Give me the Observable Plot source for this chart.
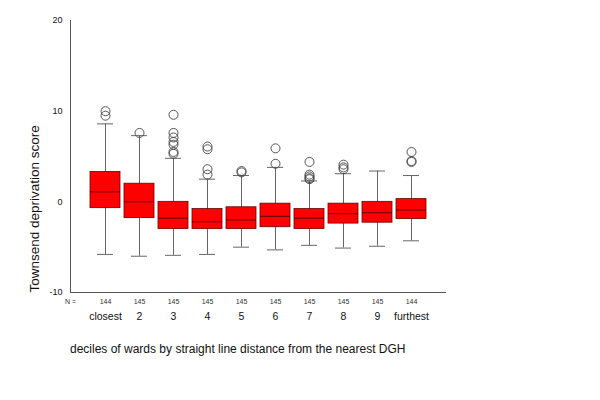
<!DOCTYPE html>
<html>
<head>
<meta charset="utf-8">
<script src="https://cdn.jsdelivr.net/npm/d3@7"></script>
<script src="https://cdn.jsdelivr.net/npm/@observablehq/plot@0.6"></script>
<style>
  body { margin: 0; background: #fff; font-family: "Liberation Sans", Arial, sans-serif; }
  #caption { margin: 12px 0 0 70px; font-size: 12px; color: #111; }
</style>
</head>
<body>
<div id="chart"></div>
<div id="caption">deciles of wards by straight line distance from the nearest DGH</div>
<script>
const categories = ["closest","2","3","4","5","6","7","8","9","furthest"];
const nCounts = [144,145,145,145,145,145,145,145,145,144];
const q1 = [-0.7,-1.8,-3.0,-3.0,-3.0,-2.8,-3.0,-2.4,-2.3,-1.9];
const medians = [1.1,0.0,-1.8,-2.2,-2.0,-1.6,-1.8,-1.3,-1.2,-0.9];
const q3 = [3.3,2.0,0.0,-0.8,-0.6,-0.2,-0.8,-0.2,0.0,0.3];
const whiskerLow = [-5.8,-6.0,-5.9,-5.8,-5.0,-5.3,-4.8,-5.1,-4.9,-4.3];
const whiskerHigh = [8.6,7.3,4.8,2.5,2.9,3.8,2.3,3.1,3.4,2.9];
const outliers = [
  [10.0,9.5],
  [7.6],
  [9.6,7.6,7.1,6.6,6.3,5.5,5.3],
  [6.1,5.8,3.6,3.0],
  [3.4,3.25],
  [5.9,4.2],
  [4.4,3.0,2.8,2.6,2.5],
  [4.1,3.8,3.6],
  [],
  [5.5,4.5,4.4]
];
const yTicks = [-10,0,10,20];
const yLabel = "Townsend deprivation score";

const stats = categories.map((c,i) => ({
  cat: c, n: nCounts[i], q1: q1[i], med: medians[i], q3: q3[i],
  lo: whiskerLow[i], hi: whiskerHigh[i]
}));
const outlierPts = categories.flatMap((c,i) => outliers[i].map(v => ({cat: c, v})));

const chart = Plot.plot({
  width: 600,
  height: 330,
  marginTop: 20,
  marginBottom: 38,
  marginLeft: 70,
  marginRight: 155,
  style: {fontFamily: '"Liberation Sans", Arial, sans-serif', color: "#111", background: "#fff"},
  x: {domain: categories, paddingInner: 0.12, paddingOuter: 0.54, label: null},
  y: {domain: [-10, 20], label: null},
  marks: [
    Plot.axisY({ticks: yTicks, tickFormat: d => String(d), tickSize: 0, tickPadding: 8, fontSize: 9, label: null}),
    Plot.axisX({tickSize: 0, tickPadding: 20, fontSize: 10.5, label: null}),
    Plot.text([yLabel], {frameAnchor: "bottom-left", rotate: -90, textAnchor: "start", dx: -36, fontSize: 13.5, fill: "#111", lineAnchor: "middle"}),
    Plot.ruleX(stats, {x: "cat", y1: "lo", y2: "hi", stroke: "#666", strokeWidth: 1}),
    Plot.tickY(stats, {x: "cat", y: "lo", stroke: "#666", insetLeft: 7, insetRight: 7}),
    Plot.tickY(stats, {x: "cat", y: "hi", stroke: "#666", insetLeft: 7, insetRight: 7}),
    Plot.barY(stats, {x: "cat", y1: "q1", y2: "q3", fill: "#ff0000", stroke: "#6b0000", strokeWidth: 0.8}),
    Plot.tickY(stats, {x: "cat", y: "med", stroke: "#5a0000", strokeWidth: 1}),
    Plot.dot(outlierPts, {x: "cat", y: "v", r: 4.5, stroke: "#444", strokeWidth: 0.9, fill: "none"}),
    Plot.text(stats, {x: "cat", text: d => String(d.n), frameAnchor: "bottom", dy: 11, fontSize: 7, fill: "#333"}),
    Plot.text(["N ="], {frameAnchor: "bottom-left", dy: 11, fontSize: 7, fill: "#333", textAnchor: "middle"}),
    Plot.frame({anchor: "left", stroke: "#555"}),
    Plot.frame({anchor: "bottom", stroke: "#555"})
  ]
});
document.getElementById("chart").append(chart);
</script>
</body>
</html>
